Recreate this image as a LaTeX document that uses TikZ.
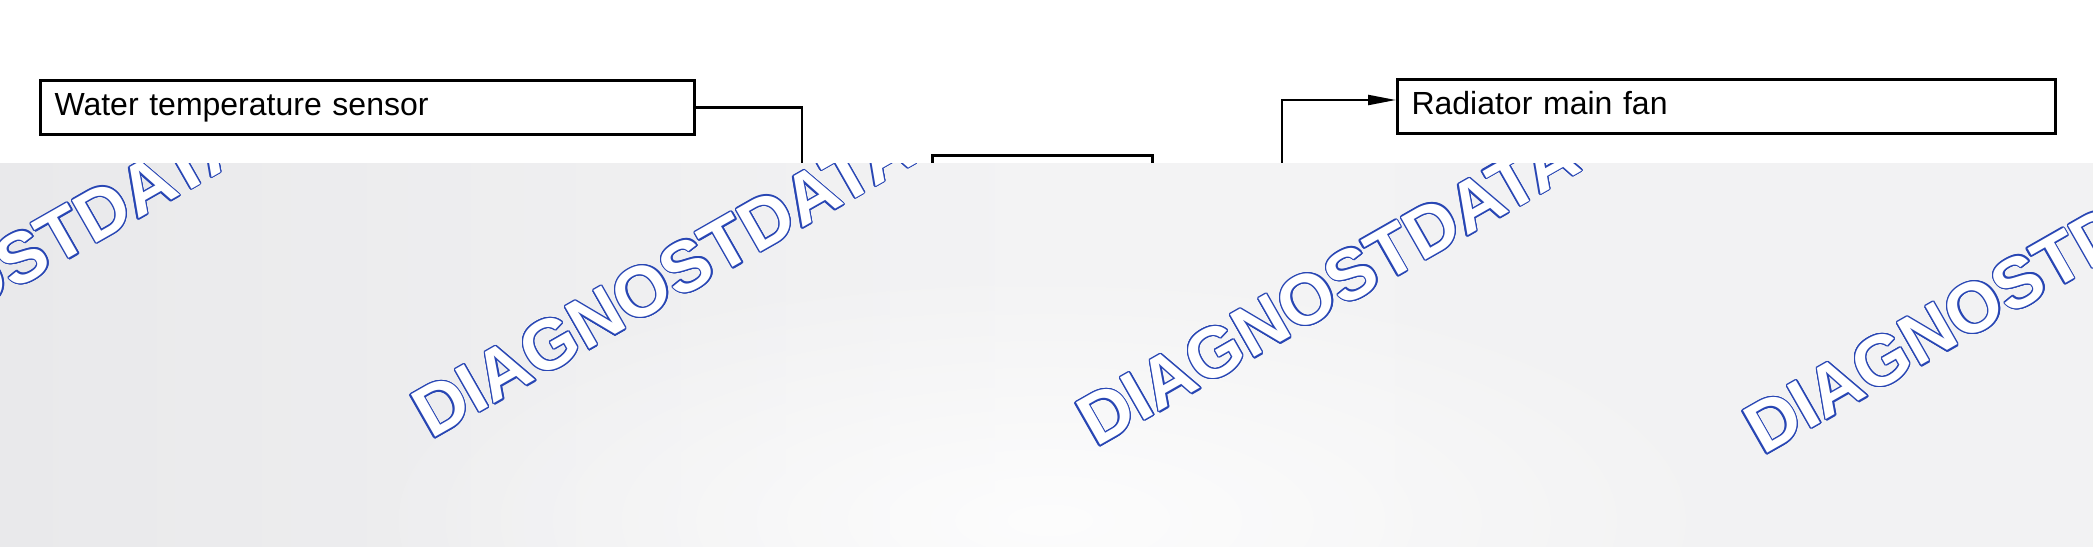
\documentclass[tikz,border=0pt]{standalone}
\usepackage{fontspec}
\setmainfont{Liberation Sans}
\newfontfamily\wmfont{Liberation Sans Bold}
\usetikzlibrary{arrows.meta,fadings}
\definecolor{wmblue}{RGB}{40,70,180}
\definecolor{ovlA}{RGB}{219,220,223}
\definecolor{ovlB}{RGB}{233,233,235}
\definecolor{ovlC}{RGB}{243,243,244}
\definecolor{ovlD}{RGB}{240,240,241}
\pgfdeclarehorizontalshading{ovlshade}{100bp}{color(0bp)=(ovlA); color(12bp)=(ovlA); color(25bp)=(ovlB); color(50bp)=(ovlC); color(100bp)=(ovlD)}
\tikzfading[name=glowfade, inner color=transparent!0, outer color=transparent!100]
\begin{document}
\begin{tikzpicture}[x=1pt,y=-1pt,
  box/.style={draw, line width=3pt, inner xsep=14pt, inner ysep=0pt, minimum height=54pt,
    text height=23pt, text depth=7pt, align=left, font=\fontsize{32}{38}\selectfont},
  conn/.style={line width=2.2pt},
  tip/.style={-{Triangle[length=28pt,width=10pt]}},
  wm/.style={font=\wmfont\fontsize{71}{84}\selectfont, anchor=base west, rotate=29.7, inner sep=0pt}]
\useasboundingbox (0,0) rectangle (2093,546);
\fill[white] (0,0) rectangle (2093,546);
% boxes
\node[box, anchor=north west, text width=626pt] (water) at (39,79) {Water temperature sensor};
\node[box, anchor=north west, text width=630pt] (rad) at (1396,78) {Radiator main fan};
\node[draw, line width=2.8pt, anchor=north west, minimum width=220pt, minimum height=260pt] (mid) at (931,154) {};
% connectors
\coordinate (c1) at (802,330);
\coordinate (c2) at (1282,330);
\coordinate (r1) at (1282,100);
\draw[conn] (water.east) -| (c1) -- (c1 -| mid.west);
\draw[conn,tip] (c2 -| mid.east) -- (c2) -- (r1) -- (r1 -| rad.west);
% overlay with watermarks
\begin{scope}
\clip (0,163) rectangle (2093,546);
\shade[shading=ovlshade] (0,163) rectangle (2093,546);
\fill[white, opacity=0.8, path fading=glowfade] (1050,520) ellipse (700 and 260);
\foreach \px/\py [count=\i] in {-233/431, 431/440, 1096/448, 1763/456}{
  \foreach \a [count=\j] in {0,22.5,...,337.5}{
    \node[wm, text=wmblue, xshift={1.3*cos(\a)}, yshift={1.3*sin(\a)}] (wmb\i-\j) at (\px,\py) {DIAGNOSTDATA};
  }
  \node[wm, text=white] (wmw\i) at (\px,\py) {DIAGNOSTDATA};
}
\end{scope}
\end{tikzpicture}
\end{document}
